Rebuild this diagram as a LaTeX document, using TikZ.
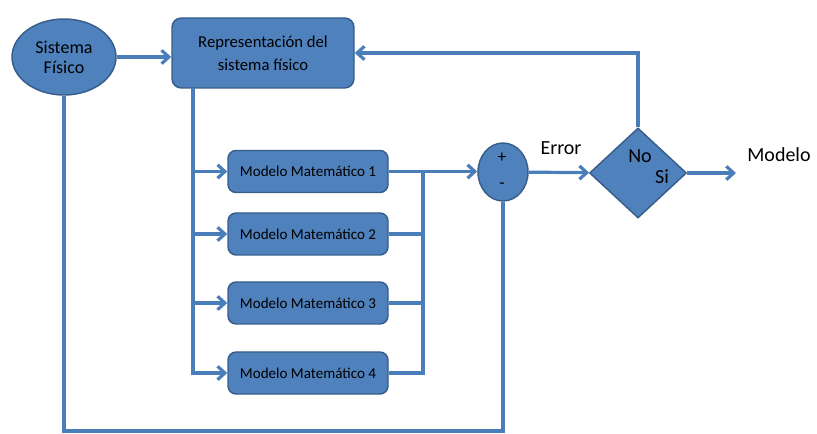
\documentclass[tikz,border=0pt]{standalone}
\usepackage{fontspec}
\setmainfont{Carlito}
\usepackage{tikz}
\usetikzlibrary{arrows.meta}
\usetikzlibrary{shapes}
\definecolor{ofblue}{RGB}{79,129,189}
\definecolor{ofedge}{RGB}{56,93,138}
\definecolor{ofline}{RGB}{74,126,187}

\begin{document}
\begin{tikzpicture}[x=0.75pt, y=-0.75pt, >={Straight Barb[length=5.5pt, width=10pt]},
	link/.style={ofline, line width=2.4pt},
	main node/.style={rectangle, rounded corners=7pt, draw=ofedge, fill=ofblue, line width=1.1pt, align=center, font=\fontsize{12.5}{17}\selectfont},
	model node/.style={main node, rounded corners=6pt, minimum width=120pt, minimum height=31.5pt, font=\fontsize{11.3}{13}\selectfont},
	main ellipse/.style={ellipse, draw=ofedge, fill=ofblue, line width=1.1pt, inner sep=0pt, align=center},
	main diamond/.style={diamond, draw=ofedge, fill=ofblue, line width=1.1pt, inner sep=0pt},
	big text/.style={font=\fontsize{15}{18}\selectfont},
]
\useasboundingbox (0,0) rectangle (817,434);
\node [main ellipse, minimum width=78pt, minimum height=57pt, font=\fontsize{13.5}{15}\selectfont] at (64,57) (SisFis) {Sistema\\Físico};
\node [main node, minimum width=136.5pt, minimum height=52.5pt] at (263,53) (RepSis) {Representación del\\sistema físico};
\node [model node] at (308,171.5) (Mod1) {Modelo Matemático 1};
\node [model node] at (308,234) (Mod2) {Modelo Matemático 2};
\node [model node] at (308,303) (Mod3) {Modelo Matemático 3};
\node [model node] at (308,373) (Mod4) {Modelo Matemático 4};
\node [main ellipse, minimum width=37.5pt, minimum height=43.5pt] at (503,172) (Sum) {};
\node [font=\fontsize{13}{15}\selectfont] at (502,158) (Plus) {+};
\node [font=\fontsize{13}{15}\selectfont] at (502,186) (Minus) {-};
\node [main diamond, minimum width=72.75pt, minimum height=67.5pt] at (638,173) (Decision) {};
\node [big text] at (640,156) (No) {No};
\node [big text] at (662,177) (Si) {Si};
\node [big text] at (561,148) (Error) {Error};
\node [big text] at (779,155) (Modelo) {Modelo};
\coordinate (BusTop) at (193,88);
\coordinate (ColTop) at (423,171.5);
\coordinate (Out) at (736,173);
\coordinate (Bottom) at (64,431);
%
\draw [link, ->] (SisFis) -- (SisFis -| RepSis.west);
\draw [link, ->] (Decision.north) |- (RepSis.east);
\draw [link, ->] (BusTop) |- (Mod1);
\draw [link, ->] (BusTop) |- (Mod2);
\draw [link, ->] (BusTop) |- (Mod3);
\draw [link, ->] (BusTop) |- (Mod4);
\draw [link] (Mod2) -| (ColTop);
\draw [link] (Mod3) -| (ColTop);
\draw [link] (Mod4) -| (ColTop);
\draw [link, ->] (Mod1) -- (Mod1 -| Sum.west);
\draw [link, ->] (Sum) -- (Decision);
\draw [link, ->] (Decision) -- (Out);
\draw [link] (Sum) |- (Bottom) -- (SisFis);
\end{tikzpicture}
\end{document}
